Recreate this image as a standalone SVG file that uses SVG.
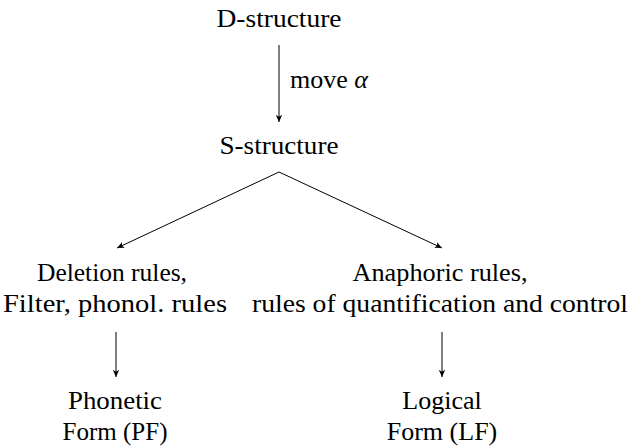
<svg xmlns="http://www.w3.org/2000/svg" width="631" height="446" viewBox="0 0 631 446">
<style>
text{font-family:"Liberation Serif","Noto Serif","DejaVu Serif",serif;font-size:26px;fill:#000;text-anchor:middle}
.c{stroke:#000;stroke-width:1;fill:none}
</style>
<defs>
<marker id="ah" viewBox="0 0 10 10" refX="9" refY="5" markerWidth="8" markerHeight="8" markerUnits="userSpaceOnUse" orient="auto">
<path d="M0,1 L9,5 L0,9 L2.5,5 Z" fill="#000"/>
</marker>
</defs>
<rect width="631" height="446" fill="#fff"/>
<g id="connectors">
<line class="c" x1="279" y1="45" x2="279" y2="122" marker-end="url(#ah)"/>
<text x="290" y="88" style="text-anchor:start">move <tspan font-style="italic">α</tspan></text>
<line class="c" x1="279" y1="172" x2="117" y2="248" marker-end="url(#ah)"/>
<line class="c" x1="279" y1="172" x2="442" y2="248" marker-end="url(#ah)"/>
<line class="c" x1="116" y1="332" x2="116" y2="377" marker-end="url(#ah)"/>
<line class="c" x1="442" y1="332" x2="442" y2="377" marker-end="url(#ah)"/>
</g>
<g id="d-structure"><text x="279" y="27" textLength="125" lengthAdjust="spacingAndGlyphs">D-structure</text></g>
<g id="s-structure"><text x="279" y="154" textLength="119" lengthAdjust="spacingAndGlyphs">S-structure</text></g>
<g id="pf-rules"><text x="112" y="281" textLength="150" lengthAdjust="spacingAndGlyphs">Deletion rules,</text><text x="115" y="312" textLength="224" lengthAdjust="spacingAndGlyphs">Filter, phonol. rules</text></g>
<g id="lf-rules"><text x="440" y="281" textLength="175" lengthAdjust="spacingAndGlyphs">Anaphoric rules,</text><text x="440" y="312" textLength="376" lengthAdjust="spacingAndGlyphs">rules of quantification and control</text></g>
<g id="pf"><text x="115" y="409" textLength="94" lengthAdjust="spacingAndGlyphs">Phonetic</text><text x="115" y="440" textLength="105" lengthAdjust="spacingAndGlyphs">Form (PF)</text></g>
<g id="lf"><text x="442" y="409">Logical</text><text x="442" y="440">Form (LF)</text></g>
</svg>
